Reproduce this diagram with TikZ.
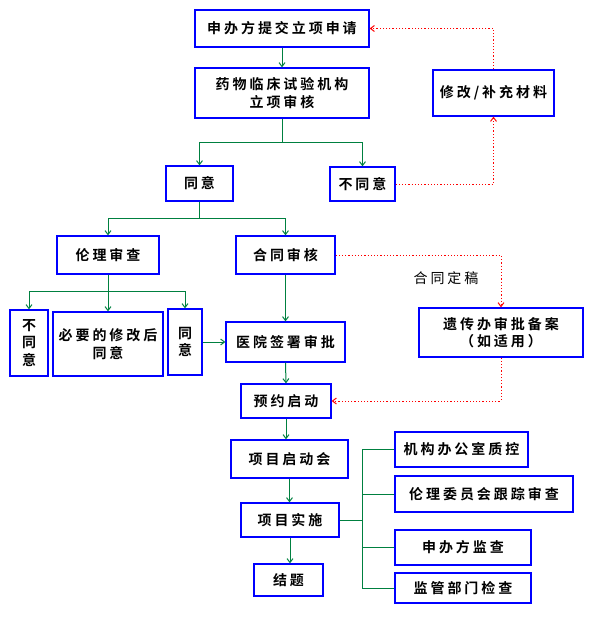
\documentclass[tikz,border=0pt]{standalone}
\usepackage{fontspec}
\setmainfont{Noto Sans CJK SC}[BoldFont={Noto Sans CJK SC Bold}, LetterSpace=21]
\usetikzlibrary{arrows.meta}

\definecolor{boxblue}{RGB}{0,0,255}
\definecolor{flowgreen}{RGB}{0,128,64}
\definecolor{backred}{RGB}{255,0,0}

\tikzset{
  box/.style={draw=boxblue, line width=1.2pt, fill=white, inner sep=0pt, align=center,
    font=\fontsize{14pt}{17.5pt}\selectfont\bfseries},
  flow/.style={draw=flowgreen, line width=1pt, -{Straight Barb[length=4pt, width=6pt]}},
  tree/.style={draw=flowgreen, line width=1pt},
  back/.style={draw=backred, line width=1pt, dash pattern=on 1.2pt off 2pt,
    -{Straight Barb[length=4pt, width=6pt]}}
}

\begin{document}
\begin{tikzpicture}[x=1pt, y=-1pt]
\useasboundingbox (0,0) rectangle (595,623);

%立项
\node[box, minimum width=174pt, minimum height=37pt] (apply) at (282,28.5) {申办方提交立项申请};
\node[box, minimum width=174pt, minimum height=50pt] (review) at (282,93) {药物临床试验机构\\立项审核};
\node[box, minimum width=121pt, minimum height=46pt] (revise) at (493.5,93) {修改/补充材料};
\node[box, minimum width=67pt, minimum height=35pt] (agree) at (199.5,183.5) {同意};
\node[box, minimum width=65pt, minimum height=34pt] (reject) at (362.5,184) {不同意};

\draw[flow] (apply) -- (review);
\draw[flow] (review.south) -- ++(0,24) -| (agree.north);
\draw[flow] (review.south) -- ++(0,24) -| (reject.north);
\draw[back] (reject.east) -| (revise.south);
\draw[back] (revise.north) |- (apply.east);

% 伦理审查 / 合同审核
\node[box, minimum width=102pt, minimum height=38pt] (ethics) at (108,255) {伦理审查};
\node[box, minimum width=99pt, minimum height=38pt] (contract) at (285.5,255) {合同审核};
\node[box, minimum width=38pt, minimum height=66pt] (ethno) at (29,343) {不\\同\\意};
\node[box, minimum width=110pt, minimum height=64pt] (ethmod) at (108,344) {必要的修改后\\同意};
\node[box, minimum width=34pt, minimum height=66pt] (ethyes) at (185,342) {同\\意};
\node[box, minimum width=119pt, minimum height=40pt] (sign) at (285.5,342) {医院签署审批};
\node[box, minimum width=164pt, minimum height=49pt] (genetic) at (501,332.5) {遗传办审批备案\\（如适用）};
\node[font=\fontsize{14pt}{17.5pt}\selectfont] (final) at (446,278) {合同定稿};

\draw[flow] (agree.south) -- ++(0,17) -| (ethics.north);
\draw[flow] (agree.south) -- ++(0,17) -| (contract.north);
\draw[flow] (ethics.south) -- ++(0,17) -| (ethno.north);
\draw[flow] (ethics.south) -- (ethmod.north);
\draw[flow] (ethics.south) -- ++(0,17) -| (ethyes.north);
\draw[flow] (ethyes.east) -- (sign.west);
\draw[flow] (contract.south) -- (sign.north);
\draw[back] (contract.east) -| (genetic.north);

% 启动与实施
\node[box, minimum width=90pt, minimum height=34pt] (launch) at (286,401) {预约启动};
\node[box, minimum width=117pt, minimum height=38pt] (kickoff) at (289.5,459) {项目启动会};
\node[box, minimum width=98pt, minimum height=34pt] (run) at (290,520) {项目实施};
\node[box, minimum width=69pt, minimum height=32pt] (close) at (288.5,580) {结题};

\draw[flow] (sign.south) -- (launch.north);
\draw[back] (genetic.south) |- (launch.east);
\draw[flow] (launch.south) -- (launch.south |- kickoff.north);
\draw[flow] (kickoff.south) -- (kickoff.south |- run.north);
\draw[flow] (run.south) -- (run.south |- close.north);

% 质控与检查
\node[box, minimum width=133pt, minimum height=35pt] (qc) at (461.5,449.5) {机构办公室质控};
\node[box, minimum width=178pt, minimum height=36pt] (irb) at (484,494) {伦理委员会跟踪审查};
\node[box, minimum width=136pt, minimum height=35pt] (monitor) at (463,547.5) {申办方监查};
\node[box, minimum width=136pt, minimum height=30pt] (inspect) at (463,588) {监管部门检查};

\foreach \n in {qc,irb,monitor,inspect}
  \draw[tree] (run.east) -- ++(23,0) |- (\n.west);

\end{tikzpicture}
\end{document}
